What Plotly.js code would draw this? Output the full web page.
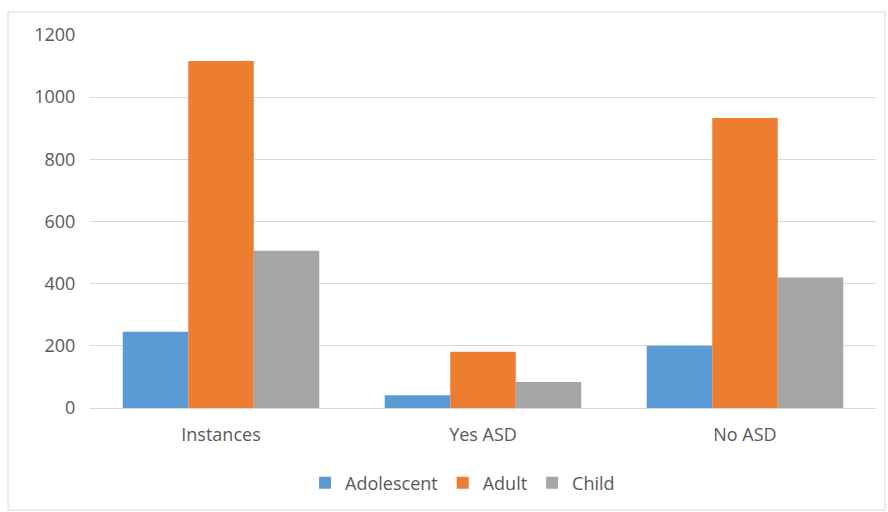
<!DOCTYPE html>
<html>
<head>
<meta charset="utf-8">
<script src="https://cdn.plot.ly/plotly-3.0.1.min.js"></script>
<style>html,body{margin:0;padding:0;background:#fff;}#chart{width:888px;height:512px;}</style>
</head>
<body>
<div id="chart"></div>
<script>
var categories = ["Instances", "Yes ASD", "No ASD"];
var adolescent = [245, 41, 200];
var adult = [1116, 181, 933];
var child = [506, 84, 420];
var seriesNames = ["Adolescent", "Adult", "Child"];
var seriesColors = ["#5B9BD5", "#ED7D31", "#A5A5A5"];
var yTicks = [0, 200, 400, 600, 800, 1000, 1200];

var seriesData = [adolescent, adult, child];
var traces = seriesData.map(function (vals, i) {
  return {
    type: "bar",
    name: seriesNames[i],
    x: categories,
    y: vals,
    marker: { color: seriesColors[i] },
    hoverinfo: "none"
  };
});

var fontFam = "'Open Sans', 'Noto Sans', sans-serif";
var layout = {
  width: 888,
  height: 512,
  margin: { l: 90, r: 12, t: 35, b: 104, autoexpand: false },
  paper_bgcolor: "#ffffff",
  plot_bgcolor: "#ffffff",
  barmode: "group",
  bargap: 0.25,
  bargroupgap: 0,
  font: { family: fontFam, size: 18, color: "#595959" },
  xaxis: {
    type: "category",
    showgrid: false,
    showline: false,
    zeroline: false,
    ticks: "outside",
    ticklen: 10,
    tickcolor: "rgba(0,0,0,0)",
    tickfont: { family: fontFam, size: 18, color: "#595959" }
  },
  yaxis: {
    range: [0, 1200],
    tickvals: yTicks,
    ticktext: yTicks.map(String),
    showgrid: true,
    gridcolor: "#d9d9d9",
    gridwidth: 1,
    zeroline: true,
    zerolinecolor: "#d9d9d9",
    zerolinewidth: 1,
    showline: false,
    ticks: "outside",
    ticklen: 10,
    tickcolor: "rgba(0,0,0,0)",
    tickfont: { family: fontFam, size: 18, color: "#595959" }
  },
  legend: {
    orientation: "h",
    x: 0.474,
    xanchor: "center",
    y: -0.201,
    yanchor: "middle",
    font: { family: fontFam, size: 18, color: "#595959" },
    itemwidth: 30,
    traceorder: "normal"
  },
  shapes: [{
    type: "rect",
    xref: "paper",
    yref: "paper",
    x0: -0.1043,
    x1: 1.0115,
    y0: -0.274,
    y1: 1.0617,
    line: { color: "#d9d9d9", width: 1 },
    fillcolor: "rgba(0,0,0,0)",
    layer: "below"
  }],
  showlegend: true
};

Plotly.newPlot("chart", traces, layout, { displayModeBar: false, staticPlot: true });
</script>
</body>
</html>
